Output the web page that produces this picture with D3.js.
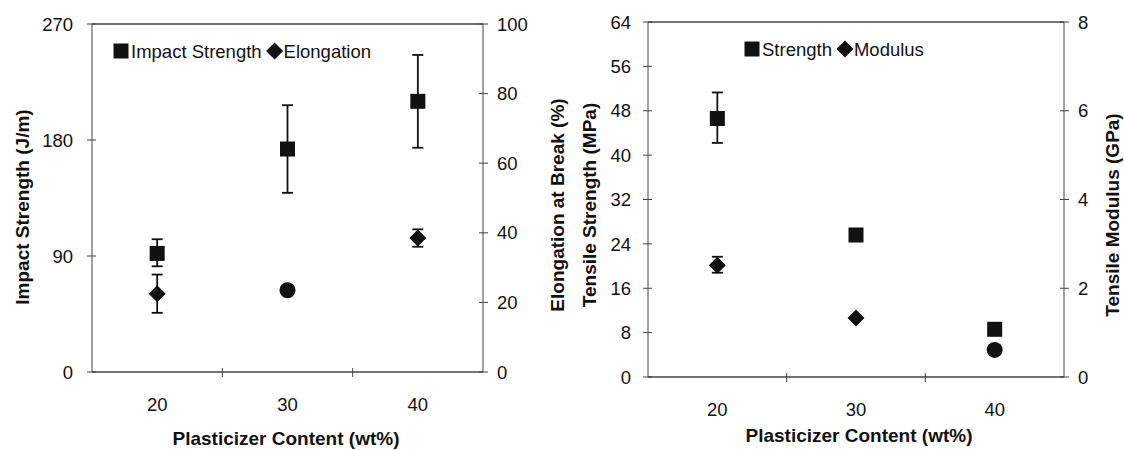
<!DOCTYPE html>
<html>
<head>
<meta charset="utf-8">
<script src="https://cdn.jsdelivr.net/npm/d3@7"></script>
<style>
  body { margin: 0; background: #fff; }
  text { font-family: "Liberation Sans", Arial, sans-serif; fill: #111; }
</style>
</head>
<body>
<svg id="chart" width="1124" height="450"></svg>
<script>
// categories shared by both panels
const contents = ["20", "30", "40"];

// left panel: impact strength (J/m) and elongation at break (%)
const impact = [92, 173, 210];
const impactLow = [82, 139, 174];
const impactHigh = [103, 207, 246];
const elong = [22.5, 23.5, 38.5];
const elongLow = [17, null, 36];
const elongHigh = [28, null, 41];
const elongShape = ["diamond", "circle", "diamond"];
const impactTicks = [0, 90, 180, 270];
const elongTicks = [0, 20, 40, 60, 80, 100];

// right panel: tensile strength (MPa) and modulus (GPa)
const strength = [46.6, 25.6, 8.6];
const strengthLow = [42.2, null, null];
const strengthHigh = [51.3, null, null];
const modulus = [2.52, 1.33, 0.61];
const modulusLow = [2.35, null, null];
const modulusHigh = [2.71, null, null];
const modulusShape = ["diamond", "diamond", "circle"];
const strengthTicks = [0, 8, 16, 24, 32, 40, 48, 56, 64];
const modulusTicks = [0, 2, 4, 6, 8];

const svg = d3.select("#chart");
const tickFont = 18.5;
const titleFont = 19;

// draws one dual-axis panel
function panel(cfg) {
  const g = svg.append("g");
  const x = d3.scaleBand().domain(contents).range([cfg.x0, cfg.x1]);
  const yL = d3.scaleLinear().domain([0, cfg.leftTicks[cfg.leftTicks.length - 1]]).range([cfg.y1, cfg.y0]);
  const yR = d3.scaleLinear().domain([0, cfg.rightTicks[cfg.rightTicks.length - 1]]).range([cfg.y1, cfg.y0]);

  // frame: left, right, bottom, top
  const ax = "#444";
  g.append("line").attr("x1", cfg.x0).attr("x2", cfg.x0).attr("y1", cfg.y0).attr("y2", cfg.y1).attr("stroke", ax);
  g.append("line").attr("x1", cfg.x1).attr("x2", cfg.x1).attr("y1", cfg.y0).attr("y2", cfg.y1).attr("stroke", ax);
  g.append("line").attr("x1", cfg.x0).attr("x2", cfg.x1).attr("y1", cfg.y1).attr("y2", cfg.y1).attr("stroke", ax).attr("stroke-width", 1.3);
  g.append("line").attr("x1", cfg.x0).attr("x2", cfg.x1).attr("y1", cfg.y0).attr("y2", cfg.y0).attr("stroke", ax).attr("stroke-width", 1.3);

  // left ticks
  cfg.leftTicks.forEach(t => {
    g.append("line").attr("x1", cfg.x0 - 5).attr("x2", cfg.x0 + 4).attr("y1", yL(t)).attr("y2", yL(t)).attr("stroke", ax);
    g.append("text").attr("x", cfg.x0 - cfg.lgap).attr("y", yL(t)).attr("dy", "0.36em")
      .attr("text-anchor", "end").attr("font-size", tickFont).text(t);
  });
  // right ticks
  cfg.rightTicks.forEach(t => {
    g.append("line").attr("x1", cfg.x1 - 4).attr("x2", cfg.x1 + 5).attr("y1", yR(t)).attr("y2", yR(t)).attr("stroke", ax);
    g.append("text").attr("x", cfg.x1 + 14).attr("y", yR(t)).attr("dy", "0.36em")
      .attr("text-anchor", "start").attr("font-size", tickFont).text(t);
  });
  // category ticks at band boundaries
  contents.forEach((c, i) => {
    if (i > 0) {
      const bx = x(c);
      g.append("line").attr("x1", bx).attr("x2", bx).attr("y1", cfg.y1 - 4).attr("y2", cfg.y1 + 5).attr("stroke", ax);
    }
    g.append("text").attr("x", x(c) + x.bandwidth() / 2).attr("y", cfg.y1 + 39)
      .attr("text-anchor", "middle").attr("font-size", tickFont).text(c);
  });

  // axis titles
  g.append("text").attr("x", cfg.xtx).attr("y", cfg.xty)
    .attr("text-anchor", "middle").attr("font-size", titleFont).attr("font-weight", "bold")
    .text("Plasticizer Content (wt%)");
  g.append("text").attr("transform", `translate(${cfg.ltx},${cfg.lty}) rotate(-90)`)
    .attr("text-anchor", "middle").attr("font-size", titleFont).attr("font-weight", "bold").text(cfg.leftTitle);
  g.append("text").attr("transform", `translate(${cfg.rtx},${cfg.rty}) rotate(-90)`)
    .attr("text-anchor", "middle").attr("font-size", titleFont).attr("font-weight", "bold").text(cfg.rightTitle);

  const cx = c => x(c) + x.bandwidth() / 2;

  function errBars(vals, lo, hi, y) {
    vals.forEach((v, i) => {
      if (lo[i] == null) return;
      const px = cx(contents[i]);
      g.append("line").attr("x1", px).attr("x2", px).attr("y1", y(lo[i])).attr("y2", y(hi[i]))
        .attr("stroke", "#111").attr("stroke-width", 1.8);
      [lo[i], hi[i]].forEach(e => {
        g.append("line").attr("x1", px - 5.5).attr("x2", px + 5.5).attr("y1", y(e)).attr("y2", y(e))
          .attr("stroke", "#111").attr("stroke-width", 1.8);
      });
    });
  }

  function marker(shape, px, py) {
    if (shape === "square") {
      g.append("rect").attr("x", px - 7.5).attr("y", py - 7.5).attr("width", 15).attr("height", 15).attr("fill", "#111");
    } else if (shape === "diamond") {
      g.append("path").attr("d", `M${px},${py - 8.5}L${px + 8.5},${py}L${px},${py + 8.5}L${px - 8.5},${py}Z`).attr("fill", "#111");
    } else {
      g.append("circle").attr("cx", px).attr("cy", py).attr("r", 8).attr("fill", "#111");
    }
  }

  errBars(cfg.sq, cfg.sqLo, cfg.sqHi, yL);
  errBars(cfg.dm, cfg.dmLo, cfg.dmHi, yR);
  cfg.sq.forEach((v, i) => marker("square", cx(contents[i]), yL(v)));
  cfg.dm.forEach((v, i) => marker(cfg.dmShape[i], cx(contents[i]), yR(v)));

  // legend
  marker("square", cfg.lgx, cfg.lgy);
  const t1 = g.append("text").attr("x", cfg.lgx + 10).attr("y", cfg.lgy).attr("dy", "0.36em")
    .attr("font-size", tickFont).text(cfg.sqName);
  const dx = cfg.lgx + 10 + t1.node().getComputedTextLength() + 13;
  marker("diamond", dx, cfg.lgy);
  g.append("text").attr("x", dx + 9).attr("y", cfg.lgy).attr("dy", "0.36em").attr("font-size", tickFont).text(cfg.dmName);
}

panel({
  x0: 92, x1: 483, y0: 24, y1: 372, lgap: 19,
  leftTicks: impactTicks, rightTicks: elongTicks,
  sq: impact, sqLo: impactLow, sqHi: impactHigh,
  dm: elong, dmLo: elongLow, dmHi: elongHigh, dmShape: elongShape,
  sqName: "Impact Strength", dmName: "Elongation",
  lgx: 121, lgy: 51,
  xtx: 286, xty: 445,
  leftTitle: "Impact Strength (J/m)", ltx: 29, lty: 207,
  rightTitle: "Elongation at Break (%)", rtx: 564, rty: 205
});

panel({
  x0: 648, x1: 1064, y0: 22, y1: 377, lgap: 17,
  leftTicks: strengthTicks, rightTicks: modulusTicks,
  sq: strength, sqLo: strengthLow, sqHi: strengthHigh,
  dm: modulus, dmLo: modulusLow, dmHi: modulusHigh, dmShape: modulusShape,
  sqName: "Strength", dmName: "Modulus",
  lgx: 752, lgy: 49,
  xtx: 859, xty: 442,
  leftTitle: "Tensile Strength (MPa)", ltx: 596, lty: 205,
  rightTitle: "Tensile Modulus (GPa)", rtx: 1119, rty: 215
});
</script>
</body>
</html>
